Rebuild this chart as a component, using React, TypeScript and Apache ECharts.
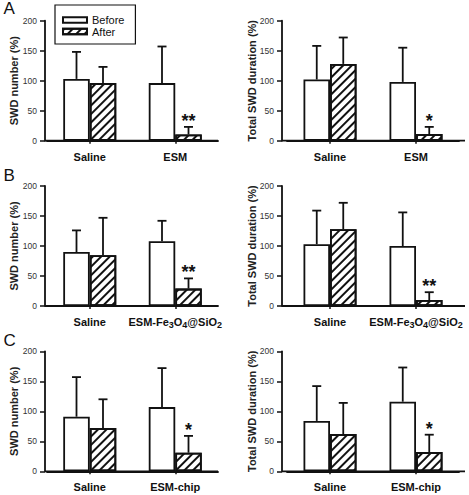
import React, { useEffect, useRef } from 'react';
import * as echarts from 'echarts';

// ---- Data (percent of baseline, mean and mean + SD) ----
// Row A
const catsA = ['Saline', 'ESM'];
const numBeforeA = [103, 96];
const numBeforeErrA = [148, 157];
const numAfterA = [96, 10.5];
const numAfterErrA = [123, 23];
const numStarsA = ['', '**'];
const durBeforeA = [102, 98];
const durBeforeErrA = [158, 155];
const durAfterA = [128, 11];
const durAfterErrA = [172, 23];
const durStarsA = ['', '*'];

// Row B
const catsB = ['Saline', 'ESM-Fe3O4@SiO2'];
const numBeforeB = [90, 108];
const numBeforeErrB = [126, 142];
const numAfterB = [84.5, 29];
const numAfterErrB = [147, 46];
const numStarsB = ['', '**'];
const durBeforeB = [103, 100];
const durBeforeErrB = [159, 156];
const durAfterB = [128, 10];
const durAfterErrB = [172, 23];
const durStarsB = ['', '**'];

// Row C
const catsC = ['Saline', 'ESM-chip'];
const numBeforeC = [91, 107];
const numBeforeErrC = [157, 172];
const numAfterC = [72, 31];
const numAfterErrC = [120, 59];
const numStarsC = ['', '*'];
const durBeforeC = [84, 116];
const durBeforeErrC = [142, 173];
const durAfterC = [62, 32];
const durAfterErrC = [114, 61];
const durStarsC = ['', '*'];

const seriesNames = ['Before', 'After'];
const panelLetters = ['A', 'B', 'C'];
const yAxisNames = ['SWD number (%)', 'Total SWD duration (%)'];
const yMin = 0;
const yMax = 200;
const yStep = 50;

// ---- Layout ----
const FONT = 'Liberation Sans, Arial, Helvetica, sans-serif';
const INK = '#111';
const ROW_TOP = [20.7, 186, 351.3];
const ROW_LETTER_TOP = [0, 166.5, 331.5];
const PLOT_H = 120;
const BAR_W = 26.5;
const CAP = 4.5;
const COLS = [
  { left: 47, width: 171, yOffset: 2, x0: 45, x1: 218, nameGap: 26 },
  { left: 287, width: 172, yOffset: 5, x0: 282, x1: 465, nameGap: 25 },
];

const panels = [
  { row: 0, col: 0, cats: catsA, before: numBeforeA, beforeErr: numBeforeErrA, after: numAfterA, afterErr: numAfterErrA, stars: numStarsA },
  { row: 0, col: 1, cats: catsA, before: durBeforeA, beforeErr: durBeforeErrA, after: durAfterA, afterErr: durAfterErrA, stars: durStarsA },
  { row: 1, col: 0, cats: catsB, before: numBeforeB, beforeErr: numBeforeErrB, after: numAfterB, afterErr: numAfterErrB, stars: numStarsB },
  { row: 1, col: 1, cats: catsB, before: durBeforeB, beforeErr: durBeforeErrB, after: durAfterB, afterErr: durAfterErrB, stars: durStarsB },
  { row: 2, col: 0, cats: catsC, before: numBeforeC, beforeErr: numBeforeErrC, after: numAfterC, afterErr: numAfterErrC, stars: numStarsC },
  { row: 2, col: 1, cats: catsC, before: durBeforeC, beforeErr: durBeforeErrC, after: durAfterC, afterErr: durAfterErrC, stars: durStarsC },
];

// "/" diagonal hatching for the After bars
const hatch = {
  symbol: 'rect',
  symbolSize: 1,
  color: INK,
  backgroundColor: '#fff',
  dashArrayX: [1, 0],
  dashArrayY: [1.1, 3.6],
  rotation: -Math.PI / 4,
};

// chemical formulas: digits following a letter become subscripts
const formatCategory = (value: string) =>
  value
    .split(/(?<=[A-Za-z])(\d)/)
    .map((part, i) => (part === '' ? '' : i % 2 === 1 ? `{s|${part}}` : `{n|${part}}`))
    .join('');

const makeErrorRenderer = (stars: string[]) => (params: any, api: any) => {
  const cat = api.value(0);
  const v = api.value(1);
  const e = api.value(2);
  const side = api.value(3);
  const base = api.coord([cat, v]);
  const top = api.coord([cat, e]);
  const x = base[0] + (side * BAR_W) / 2;
  const children: any[] = [
    { type: 'line', shape: { x1: x, y1: base[1], x2: x, y2: top[1] }, style: { stroke: INK, lineWidth: 1.8 } },
    { type: 'line', shape: { x1: x - CAP, y1: top[1], x2: x + CAP, y2: top[1] }, style: { stroke: INK, lineWidth: 1.8 } },
  ];
  const star = side > 0 ? stars[cat] : '';
  if (star) {
    children.push({
      type: 'text',
      x,
      y: top[1] - 6,
      style: { text: star, fill: INK, fontFamily: FONT, fontSize: 18, fontWeight: 'bold', align: 'center', verticalAlign: 'middle' },
    });
  }
  return { type: 'group', children };
};

export default function App() {
  const ref = useRef<HTMLDivElement>(null);

  useEffect(() => {
    if (!ref.current) return;
    const chart = echarts.init(ref.current, undefined, { renderer: 'svg' });

    const grid: any[] = [];
    const xAxis: any[] = [];
    const yAxis: any[] = [];
    const series: any[] = [];
    const graphic: any[] = [];

    panels.forEach((p, i) => {
      const col = COLS[p.col];
      grid.push({
        left: col.left,
        top: ROW_TOP[p.row],
        width: col.width,
        height: PLOT_H,
        containLabel: false,
        outerBoundsMode: 'none',
      });
      xAxis.push({
        type: 'category',
        gridIndex: i,
        data: p.cats,
        axisLine: { show: true, lineStyle: { color: INK, width: 1.8 } },
        axisTick: { show: true, alignWithLabel: true, length: 3, lineStyle: { color: INK, width: 1.5 } },
        axisLabel: {
          interval: 0,
          margin: 9,
          formatter: formatCategory,
          rich: {
            n: { fontFamily: FONT, fontSize: 11, fontWeight: 'bold', color: INK, lineHeight: 14 },
            s: { fontFamily: FONT, fontSize: 9, fontWeight: 'bold', color: INK, lineHeight: 6, verticalAlign: 'bottom' },
          },
        },
        splitLine: { show: false },
      });
      yAxis.push({
        type: 'value',
        gridIndex: i,
        min: yMin,
        max: yMax,
        interval: yStep,
        offset: col.yOffset,
        name: yAxisNames[p.col],
        nameLocation: 'middle',
        nameGap: col.nameGap,
        nameMoveOverlap: false,
        nameTextStyle: { fontFamily: FONT, fontSize: 11, fontWeight: 'bold', color: '#222', lineHeight: 11 },
        axisLine: { show: true, lineStyle: { color: INK, width: 1.8 } },
        axisTick: { show: true, length: 5, lineStyle: { color: INK, width: 1.5 } },
        axisLabel: { margin: 8, fontFamily: FONT, fontSize: 8.5, color: '#333' },
        splitLine: { show: false },
      });
      series.push(
        {
          type: 'bar',
          name: seriesNames[0],
          xAxisIndex: i,
          yAxisIndex: i,
          data: p.before,
          barWidth: BAR_W,
          barGap: '0%',
          itemStyle: { color: '#fff', borderColor: INK, borderWidth: 1.8 },
        },
        {
          type: 'bar',
          name: seriesNames[1],
          xAxisIndex: i,
          yAxisIndex: i,
          data: p.after,
          barWidth: BAR_W,
          barGap: '0%',
          itemStyle: { color: '#fff', borderColor: INK, borderWidth: 1.8, decal: hatch },
        },
        {
          type: 'custom',
          xAxisIndex: i,
          yAxisIndex: i,
          clip: false,
          z: 5,
          encode: { x: 0, y: [1, 2] },
          renderItem: makeErrorRenderer(p.stars),
          data: [
            ...p.before.map((v, c) => [c, v, p.beforeErr[c], -1]),
            ...p.after.map((v, c) => [c, v, p.afterErr[c], 1]),
          ],
        }
      );
      // baseline spanning the full panel width
      graphic.push({
        type: 'line',
        shape: { x1: col.x0, y1: ROW_TOP[p.row] + PLOT_H, x2: col.x1, y2: ROW_TOP[p.row] + PLOT_H },
        style: { stroke: INK, lineWidth: 1.8 },
        z: 10,
      });
    });

    panelLetters.forEach((letter, r) => {
      graphic.push({
        type: 'text',
        left: 3.5,
        top: ROW_LETTER_TOP[r],
        style: { text: letter, fill: INK, fontFamily: FONT, fontSize: 17 },
      });
    });

    chart.setOption({
      animation: false,
      backgroundColor: '#fff',
      textStyle: { fontFamily: FONT },
      grid,
      xAxis,
      yAxis,
      series,
      graphic,
      legend: {
        data: seriesNames,
        orient: 'vertical',
        left: 55,
        top: 5,
        icon: 'rect',
        itemWidth: 24,
        itemHeight: 5.5,
        itemGap: 0.5,
        padding: [9.5, 11, 7, 7],
        borderColor: INK,
        borderWidth: 1.2,
        selectedMode: false,
        textStyle: { fontFamily: FONT, fontSize: 11, color: INK, lineHeight: 11 },
      },
    });

    return () => chart.dispose();
  }, []);

  return (
    <div
      ref={ref}
      style={{ position: 'absolute', left: 0, top: 0, width: 469, height: 495, background: '#fff' }}
    />
  );
}
